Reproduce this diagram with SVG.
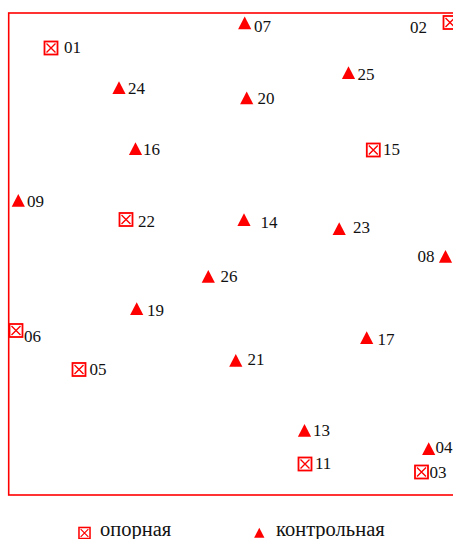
<svg xmlns="http://www.w3.org/2000/svg" xmlns:xlink="http://www.w3.org/1999/xlink" width="453" height="539" viewBox="0 0 453 539">
<style>
text{font-family:"Liberation Serif","Times New Roman",serif;font-size:17px;fill:#111}
.lg{font-size:20.5px}
</style>
<defs>
<g id="sq">
<rect x="-6.5" y="-6.5" width="13" height="13" fill="#fff" stroke="#f00" stroke-width="1.8"/>
<path d="M-4.5,-4.5L4.5,4.5M4.5,-4.5L-4.5,4.5" stroke="#f00" stroke-width="1.4"/>
</g>
<path id="tr" d="M0,-12.8L6.6,0L-6.6,0Z" fill="#f00"/>
</defs>
<rect x="8.7" y="13" width="460" height="482" fill="none" stroke="#f00" stroke-width="1.6"/>
<g id="p01"><use xlink:href="#sq" x="51" y="48"/><text x="64" y="53">01</text></g>
<g id="p02"><use xlink:href="#sq" x="450" y="22.5"/><text x="410" y="33">02</text></g>
<g id="p15"><use xlink:href="#sq" x="373.3" y="150"/><text x="383" y="155">15</text></g>
<g id="p22"><use xlink:href="#sq" x="126" y="219.5"/><text x="138" y="226.5">22</text></g>
<g id="p06"><use xlink:href="#sq" x="16" y="330.5"/><text x="24" y="341.5">06</text></g>
<g id="p05"><use xlink:href="#sq" x="79" y="369.5"/><text x="89.5" y="375">05</text></g>
<g id="p11"><use xlink:href="#sq" x="305" y="464"/><text x="315" y="469">11</text></g>
<g id="p03"><use xlink:href="#sq" x="421.5" y="472"/><text x="429.5" y="477.5">03</text></g>
<g id="p24"><use xlink:href="#tr" x="119" y="94"/><text x="128" y="93.5">24</text></g>
<g id="p25"><use xlink:href="#tr" x="348.5" y="79"/><text x="357.5" y="80">25</text></g>
<g id="p07"><use xlink:href="#tr" x="244.7" y="29.3"/><text x="254" y="32">07</text></g>
<g id="p20"><use xlink:href="#tr" x="246.7" y="104.3"/><text x="257.5" y="104.3">20</text></g>
<g id="p16"><use xlink:href="#tr" x="135.5" y="155"/><text x="143" y="155">16</text></g>
<g id="p09"><use xlink:href="#tr" x="18.3" y="206.7"/><text x="27" y="206.5">09</text></g>
<g id="p14"><use xlink:href="#tr" x="244" y="226"/><text x="260.5" y="227.5">14</text></g>
<g id="p23"><use xlink:href="#tr" x="339.2" y="235"/><text x="353" y="233.3">23</text></g>
<g id="p08"><use xlink:href="#tr" x="445.5" y="262.7"/><text x="417.5" y="262.3">08</text></g>
<g id="p26"><use xlink:href="#tr" x="208.3" y="282.7"/><text x="220.5" y="282.3">26</text></g>
<g id="p19"><use xlink:href="#tr" x="136.7" y="315"/><text x="147" y="316">19</text></g>
<g id="p21"><use xlink:href="#tr" x="235.8" y="366.7"/><text x="247.5" y="365">21</text></g>
<g id="p17"><use xlink:href="#tr" x="366.7" y="344"/><text x="377.5" y="345">17</text></g>
<g id="p13"><use xlink:href="#tr" x="304.5" y="436.7"/><text x="313" y="436">13</text></g>
<g id="p04"><use xlink:href="#tr" x="428.7" y="455"/><text x="435.5" y="453.3">04</text></g>
<g id="legend">
<g transform="translate(84.5,533) scale(0.85)"><use xlink:href="#sq"/></g>
<text class="lg" x="100" y="536">опорная</text>
<g transform="translate(259.3,537.7) scale(0.78)"><use xlink:href="#tr"/></g>
<text class="lg" x="276" y="536">контрольная</text>
</g>
</svg>
